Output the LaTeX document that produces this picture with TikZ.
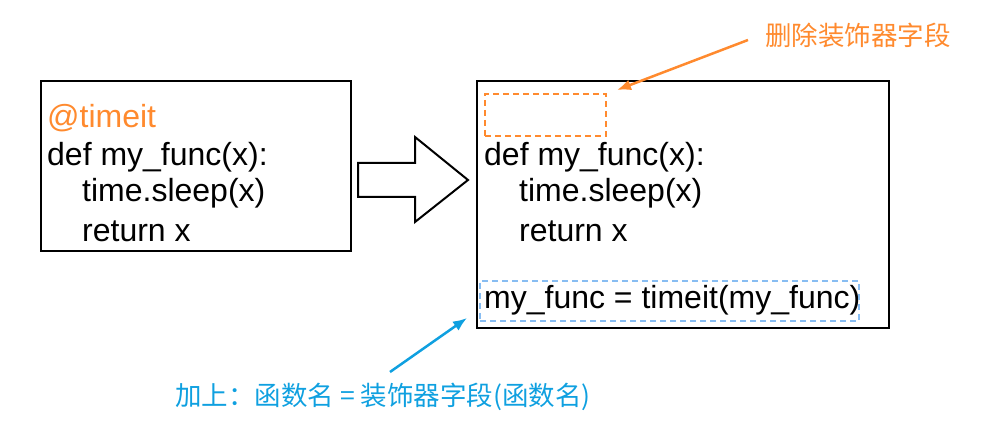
\documentclass[tikz,border=0pt]{standalone}
\usepackage{fontspec}
\usetikzlibrary{arrows.meta}
\setmainfont{Liberation Sans}
\newfontfamily\cjk{Noto Sans CJK SC}
\definecolor{org}{HTML}{FF8A2E}
\definecolor{blu}{HTML}{0FA0E0}
\definecolor{lblu}{HTML}{88BDF2}
\begin{document}
\begin{tikzpicture}[x=1pt,y=-1pt,
  code/.style={anchor=west,inner sep=0,font=\fontsize{32}{32}\selectfont},
  box/.style={draw,line width=2.2pt},
  lab/.style={inner sep=0,font=\cjk\fontsize{26.5}{26.5}\selectfont}]
\useasboundingbox (0,0) rectangle (989,433);
\node[box,minimum width=310,minimum height=170,anchor=north west] (L) at (40,80) {};
\node[code,text=org] (l1) at (47,118) {@timeit};
\node[code] (l2) at (47,157) {def my\_func(x):};
\node[code] (l3) at (82,193) {time.sleep(x)};
\node[code] (l4) at (82,231) {return x};
\draw[line width=2pt] (358,163) -- (415,163) -- (415,137) -- (468,180) -- (415,222) -- (415,197) -- (358,197) -- cycle;
\node[box,minimum width=412,minimum height=247,anchor=north west] (R) at (476,80) {};
\node[draw=org,dash pattern=on 6pt off 4pt,line width=2pt,minimum width=121,minimum height=42,anchor=north west] (od) at (484,93) {};
\node[code] (r2) at (484,157) {def my\_func(x):};
\node[code] (r3) at (519,193) {time.sleep(x)};
\node[code] (r4) at (519,231) {return x};
\node[code] (r5) at (484,300) {my\_func = timeit(my\_func)};
\node[draw=lblu,dash pattern=on 6pt off 4pt,line width=2pt,minimum width=379,minimum height=40,anchor=north west] (bd) at (479,280) {};
\node[lab,text=org,anchor=west] (ot) at (765,35) {删除装饰器字段};
\coordinate (oa) at (748,40);
\coordinate (ob) at (617,90);
\draw[org,line width=2.5pt,-{Latex[length=14pt,width=11pt]}] (oa) -- (ob);
\node[lab,text=blu,anchor=west] (bt) at (175,397) {加上：函数名 = 装饰器字段(函数名)};
\coordinate (ba) at (390,372);
\coordinate (bb) at (467,318);
\draw[blu,line width=2.5pt,-{Latex[length=14pt,width=11pt]}] (ba) -- (bb);
\end{tikzpicture}
\end{document}
